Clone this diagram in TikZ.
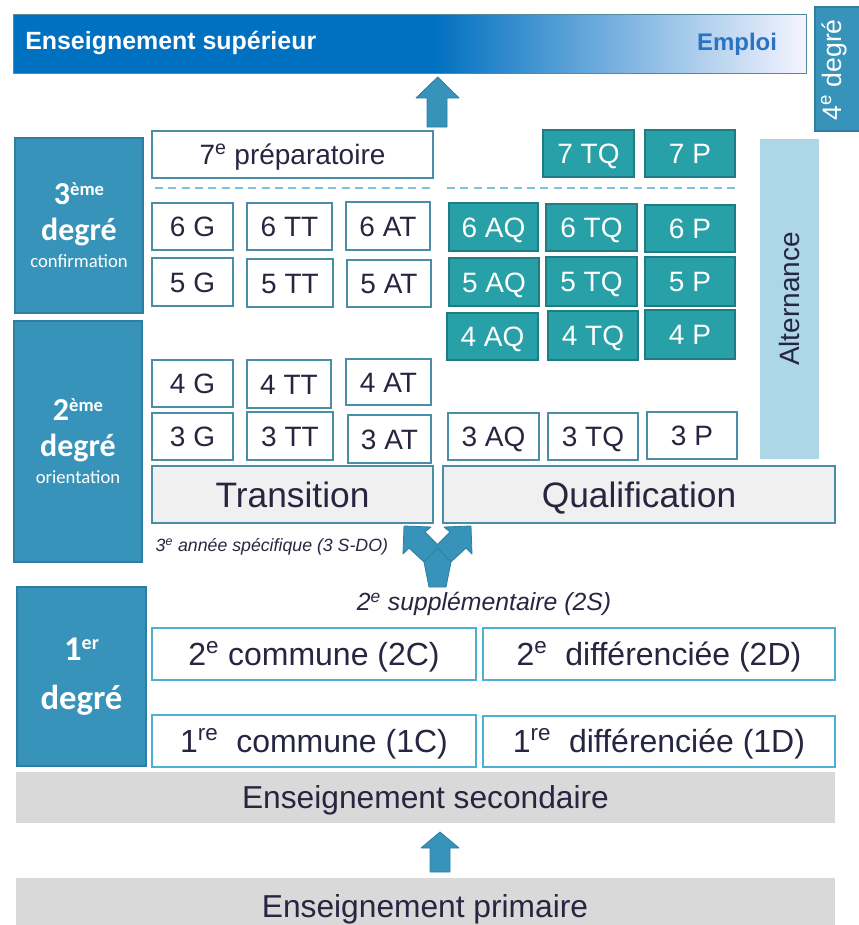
\documentclass[tikz,border=0pt]{standalone}
\usepackage{fontspec}
\setmainfont{Liberation Sans}
\newfontfamily\carl{Carlito}
\definecolor{steel}{HTML}{3793B9}
\definecolor{steeldark}{HTML}{2C7FA3}
\definecolor{teal2}{HTML}{27A1A7}
\definecolor{tealdark}{HTML}{1F7C85}
\definecolor{edge}{HTML}{4A8DA6}
\definecolor{edgelight}{HTML}{4FAED6}
\definecolor{ink}{HTML}{262641}
\definecolor{bannerblue}{HTML}{0070C0}
\definecolor{altblue}{HTML}{ADD6E6}
\definecolor{dashblue}{HTML}{7EC3DA}
\definecolor{greybar}{HTML}{D9D9D9}
\definecolor{greybox}{HTML}{F0F0F0}
\definecolor{emploi}{HTML}{2A72C2}
\newcommand\fsz[1]{\fontsize{#1}{#1}\selectfont}
\newcommand\bx[7]{\node[#2, minimum width={(#5-#3)*0.75pt}, minimum height={(#6-#4)*0.75pt}] (#1) at ({(#3+#5)/2},{(#4+#6)/2}) {#7};}
\tikzset{
  base/.style={inner sep=0pt, outer sep=0pt, line width=0.9pt},
  wbox/.style={base, draw=edge, fill=white, text=ink, font=\fsz{21}, text height=15pt, text depth=0pt},
  tbox/.style={base, draw=tealdark, fill=teal2, text=white, font=\fsz{21}, text height=15pt, text depth=0pt},
  gbox/.style={base, draw=edge, fill=greybox, text=ink, font=\fsz{26.5}, text height=19pt, text depth=0pt},
  lbox/.style={base, draw=edgelight, fill=white, text=ink, font=\fsz{24}, text height=17.2pt, text depth=0pt},
  barbox/.style={base, fill=greybar, text=ink, font=\fsz{23.8}, text height=17pt, text depth=0pt},
  degbox/.style={base, draw=steeldark, fill=steel, text=white, align=center, font=\carl},
  altbox/.style={base, fill=altblue},
  blockarrow/.style={fill=steel, draw=steeldark, line width=0.6pt, line join=round},
  dashsep/.style={draw=dashblue, line width=1.2pt, dash pattern=on 6pt off 4pt},
}
\begin{document}
\begin{tikzpicture}[x=0.75pt,y=-0.75pt]
\useasboundingbox (0,0) rectangle (859,925);

% banner
\fill[bannerblue] (13,14) rectangle (434,73);
\shade[left color=bannerblue, right color=white!96!blue] (433,14) rectangle (806,73);
\bx{sup}{base, draw=edge!80!gray, line width=0.7pt}{13}{14}{806}{73}{}
\node[anchor=west, text=white, font=\fsz{18.7}\bfseries, inner sep=0pt] (supt) at (25,43) {Enseignement supérieur};
\node[text=emploi, font=\fsz{18}\bfseries] (emp) at (737,44) {Emploi};

% 4e degré
\bx{deg4}{base, draw=steeldark, fill=steel}{815}{7}{875}{131}{}
\node[rotate=90, text=white, font=\fsz{20}] (deg4t) at (834,70) {4\textsuperscript{e} degré};

% top arrow
\draw[blockarrow] (437.7,77) -- (459,98) -- (447,98) -- (447,127) -- (427,127) -- (427,98) -- (416,98) -- cycle;

% degree boxes
\bx{d3}{degbox}{15}{138}{143}{313}{{\fsz{24}\bfseries 3\raisebox{0.55ex}{\fsz{14}ème}}\\[9pt]{\fsz{24}\bfseries degré}\\[6pt]{\fsz{14}confirmation}}
\bx{d2}{degbox}{14}{321}{142}{562}{{\fsz{24}\bfseries 2\raisebox{0.55ex}{\fsz{14}ème}}\\[9pt]{\fsz{24}\bfseries degré}\\[6pt]{\fsz{14}orientation}}
\bx{d1}{degbox}{17}{587}{146}{766}{{\fsz{26}\bfseries 1\raisebox{0.6ex}{\fsz{15}er}}\\[18pt]{\fsz{26}\bfseries degré}}

% alternance
\bx{alt}{altbox}{760}{139}{819}{459}{}
\node[rotate=90, text=ink, font=\fsz{21}] (altt) at (alt.center) {Alternance};

% 7e prep and dashed separators
\bx{prep}{wbox}{152}{131}{433}{178}{7\textsuperscript{e} préparatoire}
\coordinate (s1a) at (155,188); \coordinate (s1b) at (430,188);
\coordinate (s2a) at (447,188); \coordinate (s2b) at (740,188);
\draw[dashsep] (s1a) -- (s1b);
\draw[dashsep] (s2a) -- (s2b);

% transition grid
\bx{g6}{wbox}{152}{203}{233}{250}{6 G}
\bx{tt6}{wbox}{247}{203}{332}{250}{6 TT}
\bx{at6}{wbox}{346}{202}{430}{250}{6 AT}
\bx{g5}{wbox}{152}{258}{233}{306}{5 G}
\bx{tt5}{wbox}{247}{259}{333}{307}{5 TT}
\bx{at5}{wbox}{347}{260}{431}{307}{5 AT}
\bx{g4}{wbox}{152}{360}{233}{407}{4 G}
\bx{tt4}{wbox}{247}{360}{331}{408}{4 TT}
\bx{at4}{wbox}{346}{359}{431}{405}{4 AT}
\bx{g3}{wbox}{152}{413}{233}{460}{3 G}
\bx{tt3}{wbox}{247}{412}{333}{460}{3 TT}
\bx{at3}{wbox}{348}{415}{431}{463}{3 AT}

% qualification grid
\bx{tq7}{tbox}{543}{130}{634}{177}{7 TQ}
\bx{p7}{tbox}{645}{130}{735}{177}{7 P}
\bx{aq6}{tbox}{449}{203}{538}{251}{6 AQ}
\bx{tq6}{tbox}{546}{204}{637}{251}{6 TQ}
\bx{p6}{tbox}{645}{205}{735}{252}{6 P}
\bx{aq5}{tbox}{449}{258}{539}{306}{5 AQ}
\bx{tq5}{tbox}{546}{257}{637}{306}{5 TQ}
\bx{p5}{tbox}{645}{257}{735}{306}{5 P}
\bx{aq4}{tbox}{447}{313}{538}{360}{4 AQ}
\bx{tq4}{tbox}{548}{311}{638}{360}{4 TQ}
\bx{p4}{tbox}{645}{310}{735}{359}{4 P}
\bx{aq3}{wbox}{448}{413}{539}{460}{3 AQ}
\bx{tq3}{wbox}{548}{413}{638}{460}{3 TQ}
\bx{p3}{wbox}{647}{412}{737}{459}{3 P}

% forms
\bx{trans}{gbox}{152}{466}{433}{523}{Transition}
\bx{qual}{gbox}{443}{466}{835}{523}{Qualification}

\node[anchor=west, text=ink, font=\fsz{13.3}\itshape] (sdo) at (151,547) {3\textsuperscript{e} année spécifique (3 S-DO)};

% forked arrow
\draw[blockarrow] (429,587) -- (424,562) -- (409,548) -- (403,554) -- (404,526) -- (431,527) -- (425,532) -- (437.5,544.5)
  -- (450,532) -- (444,527) -- (471,526) -- (472,554) -- (466,548) -- (451,562) -- (446,587) -- cycle;
\draw[steeldark, line width=0.5pt] (424,562) -- (437.5,548) -- (451,562);

\node[text=ink, font=\fsz{18.6}\itshape] (s2) at (484,604) {2\textsuperscript{e} supplémentaire (2S)};

% first degree
\bx{c2}{lbox}{152}{628}{476}{680}{2\textsuperscript{e} commune (2C)}
\bx{df2}{lbox}{483}{628}{835}{680}{2\textsuperscript{e}\ \ différenciée (2D)}
\bx{c1}{lbox}{152}{715}{476}{767}{1\textsuperscript{re}\ \ commune (1C)}
\bx{df1}{lbox}{483}{716}{835}{767}{1\textsuperscript{re}\ \ différenciée (1D)}

% bars
\bx{sec}{barbox}{16}{772}{835}{823}{Enseignement secondaire}
\draw[blockarrow] (440,832) -- (459,848) -- (450,848) -- (450,872) -- (430,872) -- (430,848) -- (421,848) -- cycle;
\bx{prim}{barbox}{16}{878}{835}{936}{}
\node[text=ink, font=\fsz{23.8}, text height=17pt, text depth=0pt, inner sep=0pt] (primt) at (425,906) {Enseignement primaire};
\end{tikzpicture}
\end{document}
